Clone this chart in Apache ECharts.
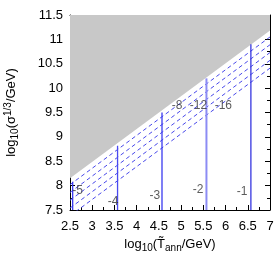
<!DOCTYPE html>
<html>
<head>
<meta charset="utf-8">
<script src="https://cdn.jsdelivr.net/npm/echarts@6/dist/echarts.min.js"></script>
<style>html,body{margin:0;padding:0;background:#fff;}#c{width:277px;height:255px;}</style>
</head>
<body>
<div id="c"></div>
<script>
// ---- data ----
const xRange = [2.5, 7];
const yRange = [7.5, 11.5];
const boundaryX = [2.5, 7];
const boundaryY = [8.15, 11.18];
const verticalX = [2.56, 3.57, 4.57, 5.57, 6.57];
const verticalTop = [8.08, 8.82, 9.5, 10.2, 10.9];
const dashedLeftY = [8.02, 7.86, 7.70, 7.54, 7.38];
const dashedRightY = [11.05, 10.89, 10.73, 10.57, 10.41];
const labelText = ['-5', '-4', '-3', '-2', '-1', '-8', '-12', '-16'];
const labelX = [2.67, 3.47, 4.41, 5.38, 6.37, 4.91, 5.39, 5.95];
const labelY = [7.9, 7.68, 7.8, 7.92, 7.88, 9.63, 9.63, 9.63];

const vColors = ['#3a3af0', '#4a4af0', '#3a3af0', '#8c8cf4', '#3535e0'];
const vWidths = [1.3, 1.3, 1.3, 2, 1.3];

const FONT = 'Liberation Sans';
const series = [];
series.push({
  type: 'line', data: boundaryX.map((x, i) => [x, boundaryY[i]]),
  symbol: 'none', lineStyle: { width: 0 },
  areaStyle: { origin: 'end', color: '#c8c8c8', opacity: 1 }, z: 1, silent: true
});
dashedLeftY.forEach((y0, i) => {
  series.push({
    type: 'line', data: [[xRange[0], y0], [xRange[1], dashedRightY[i]]],
    symbol: 'none', lineStyle: { color: '#4848ea', width: 1, type: [4, 3] }, z: 2, silent: true
  });
});
verticalX.forEach((x, i) => {
  series.push({
    type: 'line', data: [[x, yRange[0]], [x, verticalTop[i]]],
    symbol: 'none', lineStyle: { color: vColors[i], width: vWidths[i] }, z: 3, silent: true
  });
});
series.push({
  type: 'scatter', symbolSize: 0, z: 5,
  data: labelText.map((t, i) => ({ value: [labelX[i], labelY[i]], name: t })),
  label: { show: true, position: 'inside', formatter: p => p.name, color: '#333', fontSize: 12, fontFamily: FONT }
});

const tickCommon = { show: true, inside: true, length: 5, lineStyle: { color: '#000' } };
const minorCommon = { show: true, splitNumber: 2, length: 3, lineStyle: { color: '#000' } };
const chart = echarts.init(document.getElementById('c'), null, { renderer: 'canvas' });
chart.setOption({
  animation: false,
  grid: { left: 70, right: 7, top: 15, bottom: 45, show: false, containLabel: false, outerBoundsMode: 'none' },
  xAxis: [{
    type: 'value', min: xRange[0], max: xRange[1], interval: 0.5,
    axisLine: { show: true, lineStyle: { color: '#000', width: 1 } },
    axisTick: tickCommon, minorTick: minorCommon, splitLine: { show: false },
    axisLabel: { color: '#000', fontSize: 13, fontFamily: FONT, margin: 10 },
    name: 'log{s|10}(T\u0303{s|ann}/GeV)', nameLocation: 'middle', nameGap: 26,
    nameTextStyle: { color: '#000', fontSize: 13, fontFamily: FONT,
      rich: { s: { fontSize: 10, fontFamily: FONT, color: '#000', padding: [7, 0, 0, 0] } } }
  }, {
    type: 'value', min: xRange[0], max: xRange[1], interval: 0.5, position: 'top',
    axisLine: { show: true, lineStyle: { color: '#000', width: 1 } },
    axisTick: tickCommon, minorTick: minorCommon, splitLine: { show: false },
    axisLabel: { show: false }
  }],
  yAxis: [{
    type: 'value', min: yRange[0], max: yRange[1], interval: 0.5,
    axisLine: { show: true, lineStyle: { color: '#000', width: 1 } },
    axisTick: tickCommon, minorTick: minorCommon, splitLine: { show: false },
    axisLabel: { color: '#000', fontSize: 13, fontFamily: FONT, margin: 7 },
    name: 'log{s|10}(\u03c3{p|1/3}/GeV)', nameLocation: 'middle', nameGap: 50, nameRotate: 90,
    nameTextStyle: { color: '#000', fontSize: 13, fontFamily: FONT,
      rich: { s: { fontSize: 10, fontFamily: FONT, color: '#000', padding: [7, 0, 0, 0] },
              p: { fontSize: 10, fontFamily: FONT, color: '#000', padding: [0, 0, 7, 0] } } }
  }, {
    type: 'value', min: yRange[0], max: yRange[1], interval: 0.5, position: 'right',
    axisLine: { show: true, lineStyle: { color: '#000', width: 1 } },
    axisTick: tickCommon, minorTick: minorCommon, splitLine: { show: false },
    axisLabel: { show: false }
  }],
  series: series
});
</script>
</body>
</html>
